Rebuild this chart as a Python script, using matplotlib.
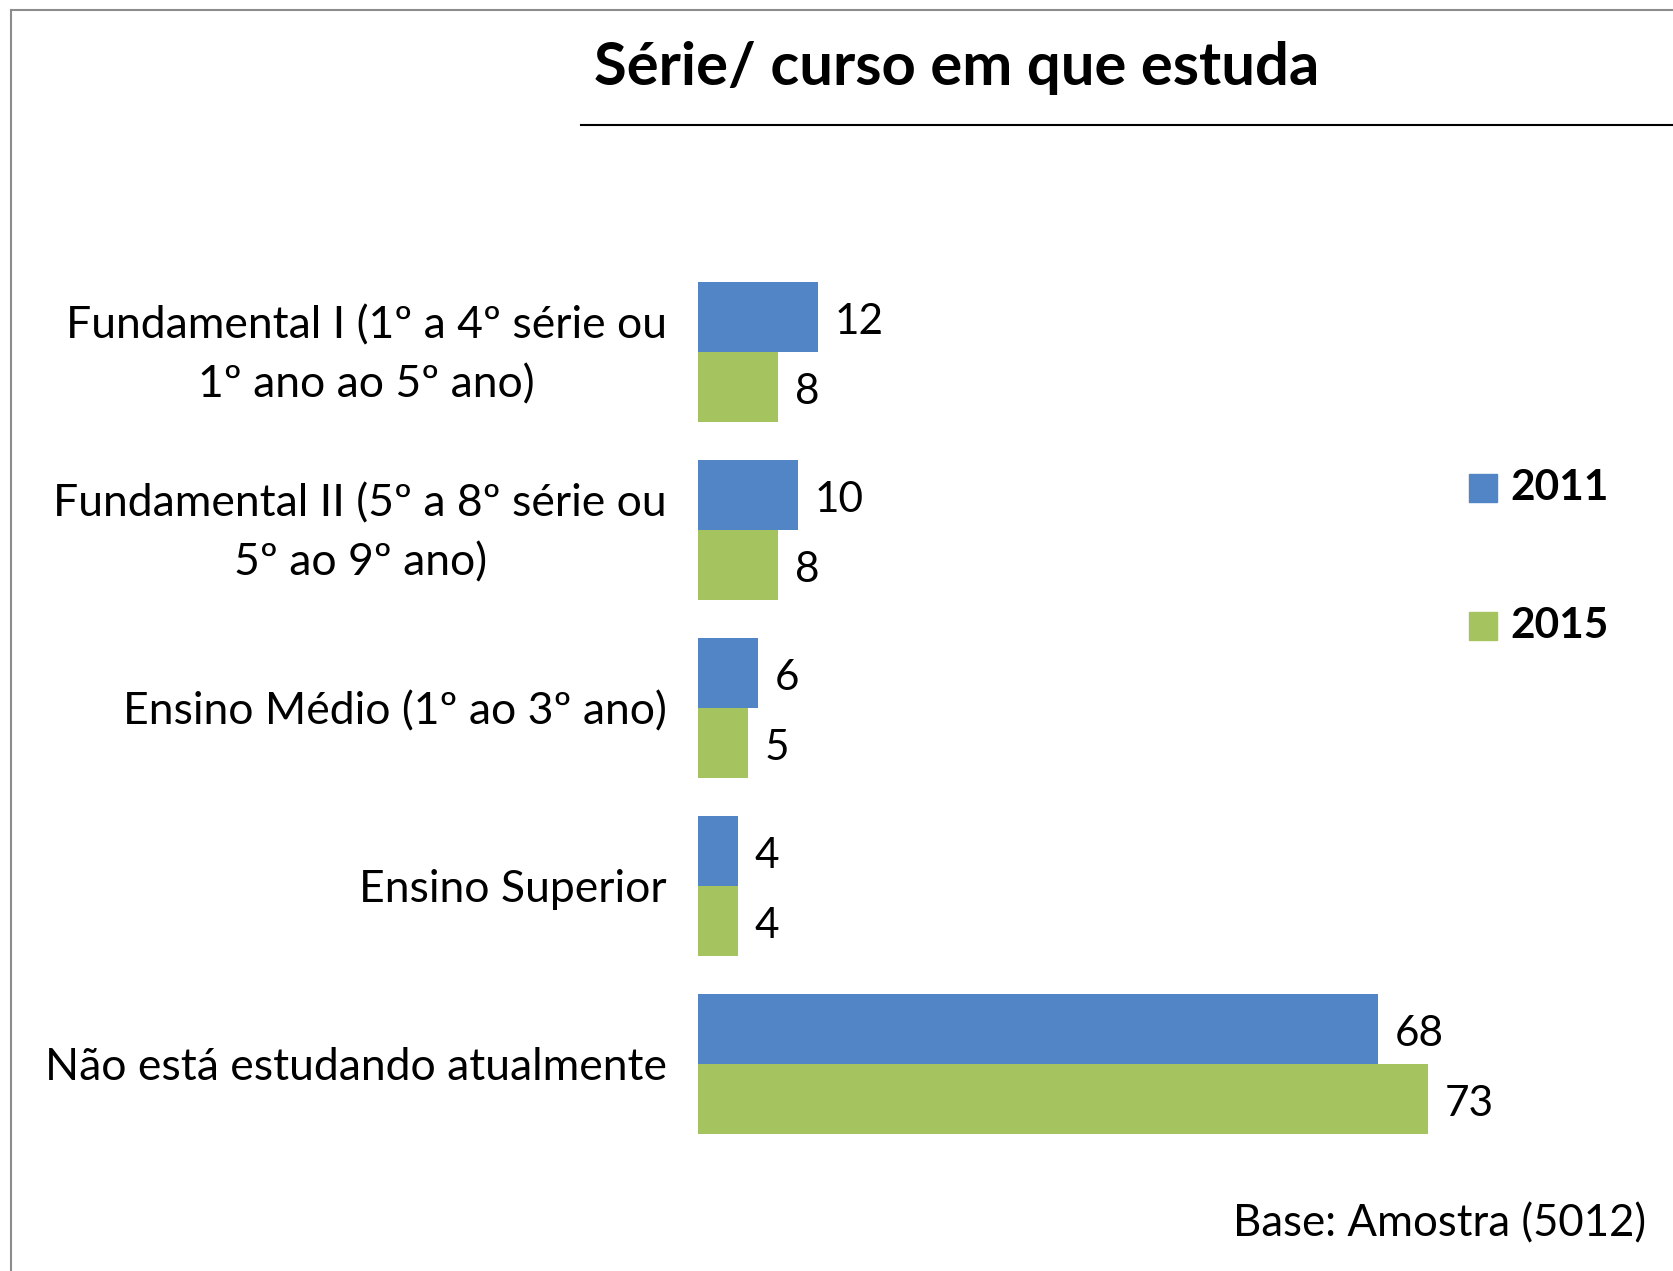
import matplotlib
matplotlib.use("Agg")
import matplotlib.pyplot as plt
from matplotlib.lines import Line2D
from matplotlib.patches import Rectangle
import matplotlib.transforms as mtransforms
import numpy as np

categories = [
    "Fundamental I (1º a 4º série ou\n1º ano ao 5º ano)",
    "Fundamental II (5º a 8º série ou\n5º ao 9º ano)",
    "Ensino Médio (1º ao 3º ano)",
    "Ensino Superior",
    "Não está estudando atualmente",
]
values_2011 = [12, 10, 6, 4, 68]
values_2015 = [8, 8, 5, 4, 73]
series_names = ["2011", "2015"]
title = "Série/ curso em que estuda"
footer = "Base: Amostra (5012)"

c2011 = "#5185C5"
c2015 = "#A5C35F"
FONT = "Lato"

W, H = 1673, 1271
fig = plt.figure(figsize=(W / 100, H / 100), dpi=100)
fig.patch.set_facecolor("white")

# axes placement
left, right = 698 / W, 1498 / W
top, bottom = 1 - 263 / H, 1 - 1153 / H
ax = fig.add_axes([left, bottom, right - left, top - bottom])
ax.set_xlim(0, 80)
n = len(categories)
ax.set_ylim(n - 0.5, -0.5)
y = np.arange(n)
bh = 0.396
ax.barh(y - bh / 2, values_2011, height=bh, color=c2011, edgecolor="none")
ax.barh(y + bh / 2, values_2015, height=bh, color=c2015, edgecolor="none")
for yi, v in zip(y, values_2011):
    ax.annotate(str(v), (v, yi - bh / 2), xytext=(12, -3.5), textcoords="offset points",
                va="center", ha="left", fontsize=30.5, family=FONT)
for yi, v in zip(y, values_2015):
    ax.annotate(str(v), (v, yi + bh / 2), xytext=(12, -3.5), textcoords="offset points",
                va="center", ha="left", fontsize=30.5, family=FONT)

# category labels
ax.set_yticks([])
ax.set_xticks([])
lab_trans = mtransforms.blended_transform_factory(ax.transAxes, ax.transData)
for yi, cat in zip(y, categories):
    multi = "\n" in cat
    off = mtransforms.ScaledTranslation(-31 / 100, (-3.5 / 100) if multi else 0, fig.dpi_scale_trans)
    ax.text(0, yi, cat, transform=lab_trans + off, ha="right",
            va="center" if multi else "center_baseline", multialignment="center",
            fontsize=32, family=FONT, linespacing=1.55)
for s in ax.spines.values():
    s.set_visible(False)

# title and rule
fig.text(594 / W, 1 - 68 / H, title, ha="left", va="center", fontsize=43,
         fontweight="bold", family=FONT)
fig.add_artist(Line2D([581 / W, 1.0], [1 - 125 / H, 1 - 125 / H], color="black", lw=1.5))

# border
fig.add_artist(Line2D([11 / W, 11 / W], [0, 1 - 10 / H], color="#8C8C8C", lw=1.5))
fig.add_artist(Line2D([11 / W, 1.0], [1 - 10 / H, 1 - 10 / H], color="#8C8C8C", lw=1.5))

# legend
for name, col, yc in zip(series_names, [c2011, c2015], [488, 626]):
    fig.add_artist(Rectangle((1469 / W, 1 - (yc + 14) / H), 28 / W, 28 / H,
                             transform=fig.transFigure, color=col))
    fig.text(1510 / W, 1 - yc / H, name, ha="left", va="center", fontsize=30.5,
             fontweight="bold", family=FONT)

fig.text(1646 / W, 1 - 1224 / H, footer, ha="right", va="center", fontsize=31.5, family=FONT)

fig.savefig("out.png", dpi=100, facecolor="white")
